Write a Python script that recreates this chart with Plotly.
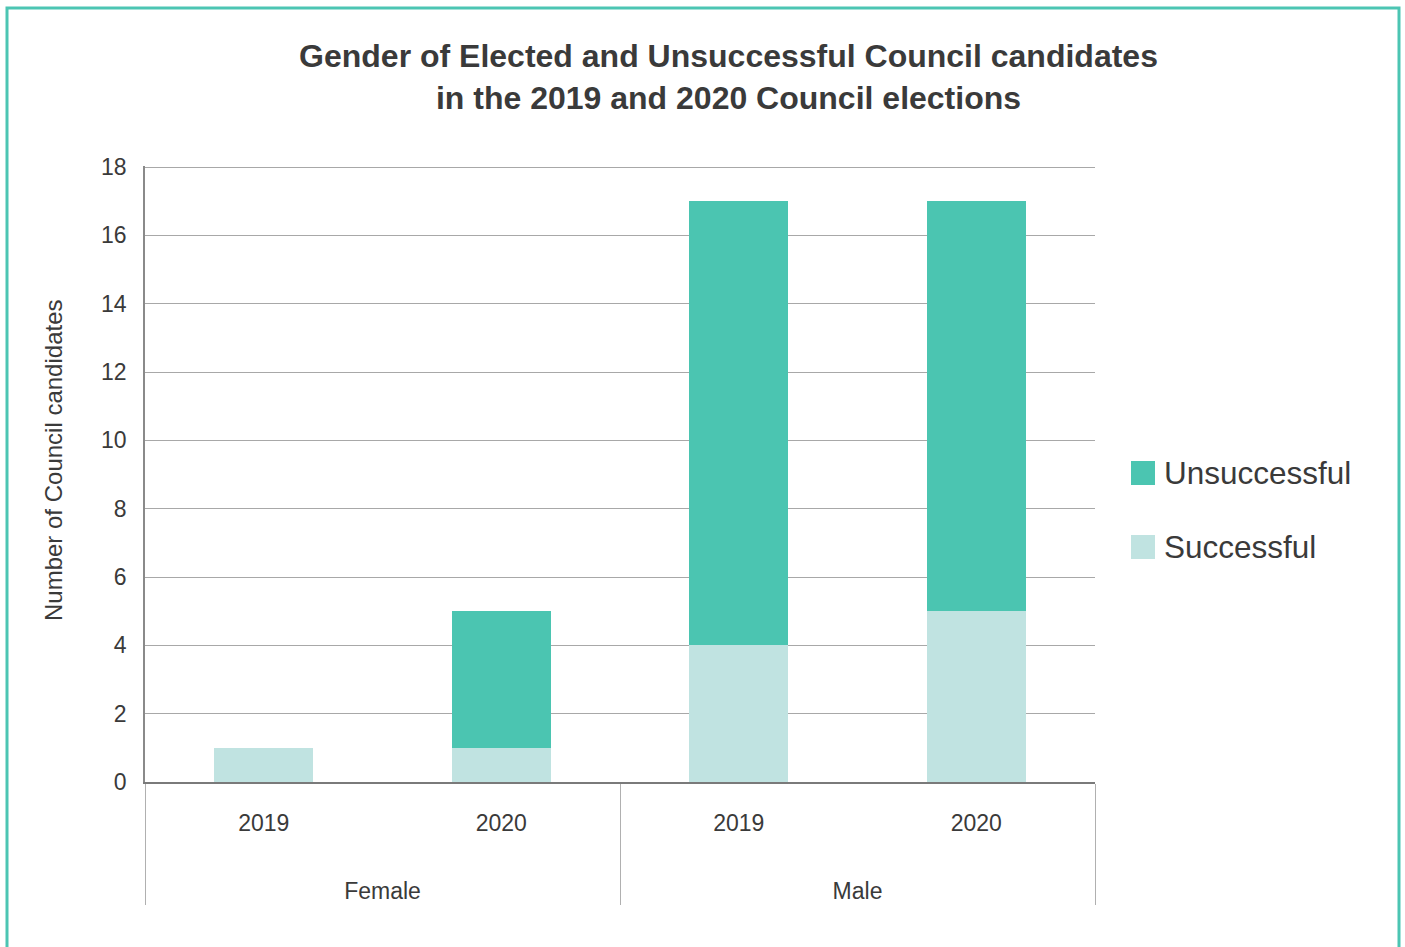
import plotly.graph_objects as go

genders = ["Female", "Female", "Male", "Male"]
years = ["2019", "2020", "2019", "2020"]
successful = [1, 1, 4, 5]
unsuccessful = [0, 4, 13, 12]
y_ticks = [0, 2, 4, 6, 8, 10, 12, 14, 16, 18]

series_names = ["Unsuccessful", "Successful"]
col_unsucc = "#4BC5B1"
col_succ = "#C0E3E1"
frame_col = "#4CC5B3"
text_col = "#3a3a3a"
FONT = "Arial, 'Liberation Sans', sans-serif"

# group labels pushed lower with blank lines
group_labels = ["<br><br>" + g for g in genders]

fig = go.Figure()
fig.add_trace(go.Bar(x=[group_labels, years], y=successful, name=series_names[1],
                     marker=dict(color=col_succ, line=dict(width=0)), showlegend=False))
fig.add_trace(go.Bar(x=[group_labels, years], y=unsuccessful, name=series_names[0],
                     marker=dict(color=col_unsucc, line=dict(width=0)), showlegend=False))

L, R, T, B = 145, 1095, 166, 782
W, H = 1405, 947
pw, ph = R - L, B - T

def px(x):
    return (x - L) / pw

def py(y):
    return (B - y) / ph

shapes = [
    dict(type="rect", xref="paper", yref="paper",
         x0=px(7), x1=px(1399), y0=py(990), y1=py(8),
         line=dict(color=frame_col, width=3), fillcolor="rgba(0,0,0,0)", layer="below"),
]
annotations = []
legend_items = [(series_names[0], col_unsucc, 473), (series_names[1], col_succ, 547)]
for name, col, yc in legend_items:
    shapes.append(dict(type="rect", xref="paper", yref="paper",
                       x0=px(1131), x1=px(1155), y0=py(yc + 12), y1=py(yc - 12),
                       line=dict(width=0), fillcolor=col))
    annotations.append(dict(xref="paper", yref="paper", x=px(1162), y=py(yc),
                            xanchor="left", yanchor="middle", text=name, showarrow=False,
                            font=dict(family=FONT, size=31.5, color=text_col)))
annotations.append(dict(xref="paper", yref="paper", x=px(53), y=py(460),
                        xanchor="center", yanchor="middle", textangle=-90,
                        text="Number of Council candidates", showarrow=False,
                        font=dict(family=FONT, size=24, color=text_col)))

fig.update_layout(
    width=W, height=H,
    margin=dict(l=L, r=W - R, t=T, b=H - B),
    paper_bgcolor="white", plot_bgcolor="white",
    barmode="stack", bargap=0.583,
    font=dict(family=FONT, color=text_col),
    title=dict(text="<b>Gender of Elected and Unsuccessful Council candidates<br>in the 2019 and 2020 Council elections</b>",
               x=728.5 / W, xanchor="center", xref="container",
               y=1 - 67 / H, yanchor="top", yref="container",
               font=dict(family=FONT, size=32, color=text_col)),
    shapes=shapes, annotations=annotations,
    showlegend=False,
)
fig.update_yaxes(range=[0, 18.03], tickvals=y_ticks, showgrid=True, gridcolor="#a8a8a8", gridwidth=1,
                 showline=True, linecolor="#8a8a8a", linewidth=1.5, zeroline=False,
                 ticks="", ticklabelstandoff=12,
                 tickfont=dict(family=FONT, size=23, color=text_col))
fig.update_xaxes(type="multicategory", showline=True, linecolor="#7a7a7a", linewidth=2,
                 showdividers=True, dividercolor="#b0b0b0", dividerwidth=1,
                 ticks="", ticklabelstandoff=19,
                 tickfont=dict(family=FONT, size=23, color=text_col))

fig.write_html("out.html", config={"displayModeBar": False},
               post_script="document.body.style.margin='0';")
